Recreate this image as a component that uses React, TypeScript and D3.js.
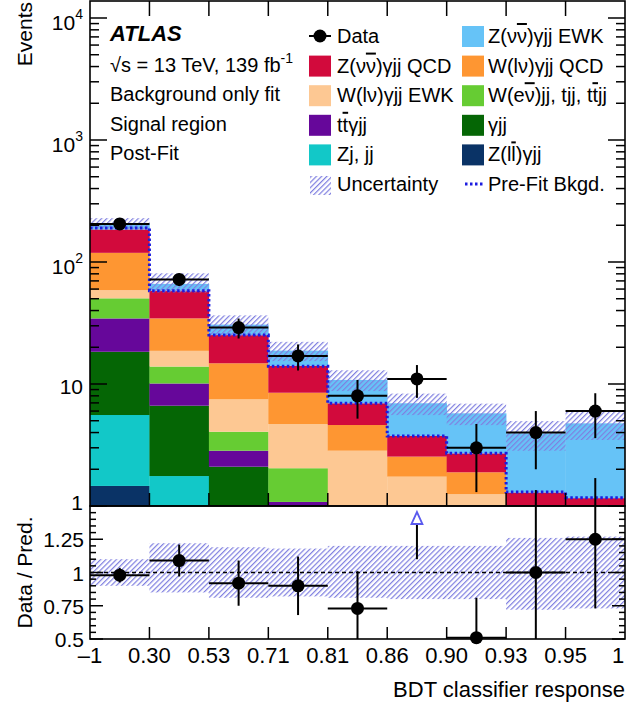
import React from 'react';
import * as d3 from 'd3';

// ---- data ----
const edgeLabels = ['\u20131', '0.30', '0.53', '0.71', '0.81', '0.86', '0.90', '0.93', '0.95', '1'];

const processKeys = ['zllgjj', 'zjjj', 'gjj', 'ttgjj', 'wejj', 'wlvgjjEWK', 'wlvgjjQCD', 'zvvgjjQCD', 'zvvgjjEWK'];
const processColors = ['#0a3366', '#12c8c8', '#056605', '#66079a', '#66cc33', '#fdc893', '#fe9632', '#d20a3c', '#66c3f7'];

const zllgjj = [1.46, 0.4, 0, 0, 0, 0, 0, 0, 0];
const zjjj = [4.11, 1.36, 0, 0, 0, 0, 0, 0, 0];
const gjj = [12.8, 4.88, 2.1, 0.3, 0, 0, 0, 0, 0];
const ttgjj = [16.1, 3.46, 0.74, 0.78, 0.05, 0, 0, 0, 0];
const wejj = [15.9, 3.8, 1.22, 0.96, 0.1, 0, 0, 0, 0];
const wlvgjjEWK = [8.5, 4.8, 3.43, 2.66, 2.69, 1.74, 1.25, 0.5, 0.4];
const wlvgjjQCD = [60, 15.8, 7.3, 3.78, 1.77, 0.8, 0.64, 0.3, 0.3];
const zvvgjjQCD = [66, 23.7, 10.4, 5.6, 2.34, 1.21, 0.81, 0.49, 0.46];
const zvvgjjEWK = [23, 8, 5.5, 4.7, 3.85, 3.2, 3.05, 2.65, 3.6];

const dataCounts = [205, 72, 29, 17, 8, 11, 3, 4, 6];
const dataErr = [14, 8.5, 5.4, 4.1, 2.8, 3.3, 1.7, 2.0, 2.4];
const prefitBkg = [190, 58, 25.2, 14, 6.95, 3.75, 2.7, 1.3, 1.17];
const uncUp = [0.1, 0.22, 0.19, 0.18, 0.2, 0.2, 0.2, 0.26, 0.27];
const uncDown = [0.1, 0.15, 0.19, 0.18, 0.19, 0.2, 0.2, 0.28, 0.27];

const ratioVals = [0.98, 1.09, 0.92, 0.9, 0.73, 1.55, 0.51, 1.0, 1.25];
const ratioErrUp = [0.055, 0.12, 0.17, 0.22, 0.28, 0.45, 0.3, 0.62, 0.46];
const ratioErrDown = [0.055, 0.12, 0.17, 0.22, 0.28, 0.45, 0.3, 0.55, 0.52];

const FF = "'Liberation Sans', Arial, Helvetica, sans-serif";

const OL = ({ children }: { children: React.ReactNode }) => (
  <tspan style={{ textDecoration: 'overline' }}>{children}</tspan>
);

export default function App() {
  React.useEffect(() => {
    document.body.style.margin = '0';
  }, []);

  const W = 626, H = 707;
  const x0 = 90, x1 = 625;
  const yTop = 1, yMid = 506, yBot = 639;
  const nb = dataCounts.length;
  const decade = 122;

  const x = d3.scaleLinear().domain([0, nb]).range([x0, x1]);
  const yMax = Math.pow(10, (yMid - yTop) / decade);
  const y = d3.scaleLog().domain([1, yMax]).range([yMid, yTop]).clamp(true);
  const yv = (v: number) => y(Math.max(v, 1e-3));
  const yr = d3.scaleLinear().domain([0.5, 1.5]).range([yBot, yMid]);

  const series = [zllgjj, zjjj, gjj, ttgjj, wejj, wlvgjjEWK, wlvgjjQCD, zvvgjjQCD, zvvgjjEWK];
  const rows = d3.range(nb).map((i) => {
    const r: Record<string, number> = {};
    processKeys.forEach((k, j) => (r[k] = series[j][i]));
    return r;
  });
  const stacked = d3.stack<Record<string, number>>().keys(processKeys)(rows);
  const totals = d3.range(nb).map((i) => d3.sum(series, (s) => s[i]));

  // ticks
  const majorY = [0, 1, 2, 3, 4].map((k) => Math.pow(10, k));
  const minorY: number[] = [];
  for (let k = 0; k <= 4; k++) for (let m = 2; m <= 9; m++) {
    const v = m * Math.pow(10, k);
    if (v < yMax) minorY.push(v);
  }
  const ratioMajor = [0.5, 0.75, 1, 1.25, 1.5];
  const ratioMinor = d3.range(0.5, 1.5001, 0.05).map((v) => +v.toFixed(2)).filter((v) => !ratioMajor.includes(v));

  const tickStroke = { stroke: '#000', strokeWidth: 1.5 };
  const binW = x(1) - x(0);

  const legendLeft = [
    { kind: 'data', label: <>Data</> },
    { kind: 'box', color: processColors[7], label: <>Z(ν<OL>ν</OL>)γjj QCD</> },
    { kind: 'box', color: processColors[5], label: <>W(lν)γjj EWK</> },
    { kind: 'box', color: processColors[3], label: <>t<OL>t</OL>γjj</> },
    { kind: 'box', color: processColors[1], label: <>Zj, jj</> },
    { kind: 'hatch', label: <>Uncertainty</> },
  ];
  const legendRight = [
    { kind: 'box', color: processColors[8], label: <>Z(ν<OL>ν</OL>)γjj EWK</> },
    { kind: 'box', color: processColors[6], label: <>W(lν)γjj QCD</> },
    { kind: 'box', color: processColors[4], label: <>W(e<OL>ν</OL>)jj, tjj, t<OL>t</OL>jj</> },
    { kind: 'box', color: processColors[2], label: <>γjj</> },
    { kind: 'box', color: processColors[0], label: <>Z(l<OL>l</OL>)γjj</> },
    { kind: 'prefit', label: <>Pre-Fit Bkgd.</> },
  ];
  const rowBase = (i: number) => 43 + i * 29.6;

  const renderLegend = (items: any[], bx: number, tx: number) =>
    items.map((it, i) => {
      const b = rowBase(i);
      let mark: React.ReactNode = null;
      if (it.kind === 'box') mark = <rect x={bx} y={b - 17} width={22} height={21} fill={it.color} />;
      if (it.kind === 'hatch') mark = <rect x={bx + 1} y={b - 15} width={21} height={19} fill="url(#hatch)" />;
      if (it.kind === 'data')
        mark = (
          <g>
            <line x1={bx} x2={bx + 22} y1={b - 7} y2={b - 7} stroke="#000" strokeWidth={2} />
            <circle cx={bx + 11} cy={b - 7} r={6.5} fill="#000" />
          </g>
        );
      if (it.kind === 'prefit')
        mark = <line x1={bx + 3} x2={bx + 23} y1={b - 7} y2={b - 7} stroke="#1c1ce0" strokeWidth={3} strokeDasharray="2.5,2.5" />;
      return (
        <g key={i}>
          {mark}
          <text x={tx} y={b} fontSize={20} fontFamily={FF} fill="#000">{it.label}</text>
        </g>
      );
    });

  // prefit step path
  const prefitPath = (() => {
    let d = '';
    prefitBkg.forEach((v, i) => {
      const yy = yv(v);
      d += i === 0 ? `M${x(0)},${yy}` : `L${x(i)},${yy}`;
      d += `L${x(i + 1)},${yy}`;
    });
    return d;
  })();

  return (
    <svg width={W} height={H} style={{ position: 'absolute', left: 0, top: 0, background: '#fff' }}>
      <defs>
        <pattern id="hatch" patternUnits="userSpaceOnUse" width={3.7} height={3.7} patternTransform="rotate(45)">
          <line x1={0.6} y1={0} x2={0.6} y2={3.7} stroke="#7f7fe0" strokeWidth={1.25} />
        </pattern>
        <clipPath id="upperClip">
          <rect x={x0} y={yTop} width={x1 - x0} height={yMid - yTop} />
        </clipPath>
        <clipPath id="ratioClip">
          <rect x={x0} y={yMid} width={x1 - x0} height={yBot - yMid} />
        </clipPath>
      </defs>

      {/* ---------- upper panel ---------- */}
      <g clipPath="url(#upperClip)">
        {stacked.map((s, j) => (
          <g key={processKeys[j]}>
            {s.map((d, i) => {
              const top = yv(d[1]);
              const bot = yv(d[0]);
              if (bot - top <= 0) return null;
              return <rect key={i} x={x(i)} y={top} width={binW + 0.3} height={bot - top} fill={processColors[j]} />;
            })}
          </g>
        ))}
        {totals.map((t, i) => {
          const top = yv(t * (1 + uncUp[i]));
          const bot = yv(t * (1 - uncDown[i]));
          return <rect key={i} x={x(i)} y={top} width={binW} height={bot - top} fill="url(#hatch)" />;
        })}
        <path d={prefitPath} fill="none" stroke="#1c1ce0" strokeWidth={3} strokeDasharray="2.5,2.5" />
        {dataCounts.map((v, i) => {
          const cx = (x(i) + x(i + 1)) / 2;
          return (
            <g key={i}>
              <line x1={x(i)} x2={x(i + 1)} y1={yv(v)} y2={yv(v)} stroke="#000" strokeWidth={2} />
              <line x1={cx} x2={cx} y1={yv(v + dataErr[i])} y2={yv(v - dataErr[i])} stroke="#000" strokeWidth={2} />
              <circle cx={cx} cy={yv(v)} r={6.5} fill="#000" />
            </g>
          );
        })}
      </g>

      {/* upper ticks */}
      {majorY.map((v) => (
        <g key={'M' + v}>
          <line x1={x0} x2={x0 + 17} y1={y(v)} y2={y(v)} {...tickStroke} />
          <line x1={x1} x2={x1 - 17} y1={y(v)} y2={y(v)} {...tickStroke} />
        </g>
      ))}
      {minorY.map((v) => (
        <g key={'m' + v}>
          <line x1={x0} x2={x0 + 9} y1={y(v)} y2={y(v)} {...tickStroke} />
          <line x1={x1} x2={x1 - 9} y1={y(v)} y2={y(v)} {...tickStroke} />
        </g>
      ))}
      {d3.range(1, nb).map((i) => (
        <g key={'xt' + i}>
          <line x1={x(i)} x2={x(i)} y1={yTop} y2={yTop + 15} {...tickStroke} />
          <line x1={x(i)} x2={x(i)} y1={yMid} y2={yMid - 13} {...tickStroke} />
        </g>
      ))}
      <rect x={x0} y={yTop} width={x1 - x0} height={yMid - yTop} fill="none" stroke="#000" strokeWidth={1.6} />

      {/* upper y labels */}
      {majorY.map((v, k) =>
        k < 2 ? (
          <text key={'l' + v} x={83} y={y(v) + (k === 0 ? 4 : 10)} textAnchor="end" fontSize={21} fontFamily={FF}>{String(v)}</text>
        ) : (
          <text key={'l' + v} x={83} y={y(v) + 12} textAnchor="end" fontSize={21} fontFamily={FF}>
            10<tspan dy={-11} fontSize={14}>{k}</tspan>
          </text>
        )
      )}
      <text transform="translate(32,2) rotate(-90)" textAnchor="end" fontSize={21} fontFamily={FF}>Events</text>

      {/* labels */}
      <text x={110} y={41} fontSize={22} fontFamily={FF} fontWeight="bold" fontStyle="italic">ATLAS</text>
      <text x={110} y={72} fontSize={20} fontFamily={FF}>
        √s = 13 TeV, 139 fb<tspan dy={-9} fontSize={14}>-1</tspan>
      </text>
      <text x={110} y={101} fontSize={20} fontFamily={FF}>Background only fit</text>
      <text x={110} y={130.5} fontSize={20} fontFamily={FF}>Signal region</text>
      <text x={110} y={160} fontSize={20} fontFamily={FF}>Post-Fit</text>

      {renderLegend(legendLeft, 309, 337)}
      {renderLegend(legendRight, 462, 488)}

      {/* ---------- ratio panel ---------- */}
      <g clipPath="url(#ratioClip)">
        {uncUp.map((u, i) => {
          const top = yr(1 + u);
          const bot = yr(1 - uncDown[i]);
          return <rect key={i} x={x(i)} y={top} width={binW} height={bot - top} fill="url(#hatch)" />;
        })}
        <line x1={x0} x2={x1} y1={yr(1)} y2={yr(1)} stroke="#000" strokeWidth={1.5} strokeDasharray="4,3" />
      </g>
      {ratioVals.map((v, i) => {
        const cx = (x(i) + x(i + 1)) / 2;
        if (v > 1.5) {
          const lo = yr(v - ratioErrDown[i]);
          const base = yMid + 18;
          const tip = yMid + 6;
          return (
            <g key={i}>
              <line x1={cx} x2={cx} y1={lo} y2={base} stroke="#000" strokeWidth={2} />
              <path d={`M${cx - 5.5},${base}L${cx + 5.5},${base}L${cx},${tip}Z`} fill="#fff" stroke="#5a5aee" strokeWidth={1.8} />
            </g>
          );
        }
        const hi = yr(v + ratioErrUp[i]);
        const lo = Math.min(yr(v - ratioErrDown[i]), yBot);
        return (
          <g key={i}>
            <line x1={x(i)} x2={x(i + 1)} y1={yr(v)} y2={yr(v)} stroke="#000" strokeWidth={2} />
            <line x1={cx} x2={cx} y1={hi} y2={lo} stroke="#000" strokeWidth={2} />
            <circle cx={cx} cy={yr(v)} r={6.5} fill="#000" />
          </g>
        );
      })}

      {ratioMajor.map((v) => (
        <g key={'rM' + v}>
          <line x1={x0} x2={x0 + 13} y1={yr(v)} y2={yr(v)} {...tickStroke} />
          <line x1={x1} x2={x1 - 13} y1={yr(v)} y2={yr(v)} {...tickStroke} />
        </g>
      ))}
      {ratioMinor.map((v) => (
        <g key={'rm' + v}>
          <line x1={x0} x2={x0 + 6} y1={yr(v)} y2={yr(v)} {...tickStroke} />
          <line x1={x1} x2={x1 - 6} y1={yr(v)} y2={yr(v)} {...tickStroke} />
        </g>
      ))}
      {d3.range(1, nb).map((i) => (
        <line key={'rxt' + i} x1={x(i)} x2={x(i)} y1={yBot} y2={yBot - 12} {...tickStroke} />
      ))}
      <rect x={x0} y={yMid} width={x1 - x0} height={yBot - yMid} fill="none" stroke="#000" strokeWidth={1.6} />

      {[0.5, 0.75, 1, 1.25].map((v) => (
        <text key={'rl' + v} x={84} y={yr(v) + 8} textAnchor="end" fontSize={21} fontFamily={FF}>{String(v)}</text>
      ))}
      <text transform={`translate(32,${(yMid + yBot) / 2}) rotate(-90)`} textAnchor="middle" fontSize={21} fontFamily={FF}>Data / Pred.</text>

      {edgeLabels.map((l, i) => (
        <text key={'xl' + i} x={Math.min(x(i), 618)} y={663} textAnchor="middle" fontSize={22} fontFamily={FF}>{l}</text>
      ))}
      <text x={625} y={697} textAnchor="end" fontSize={22} fontFamily={FF}>BDT classifier response</text>
    </svg>
  );
}
